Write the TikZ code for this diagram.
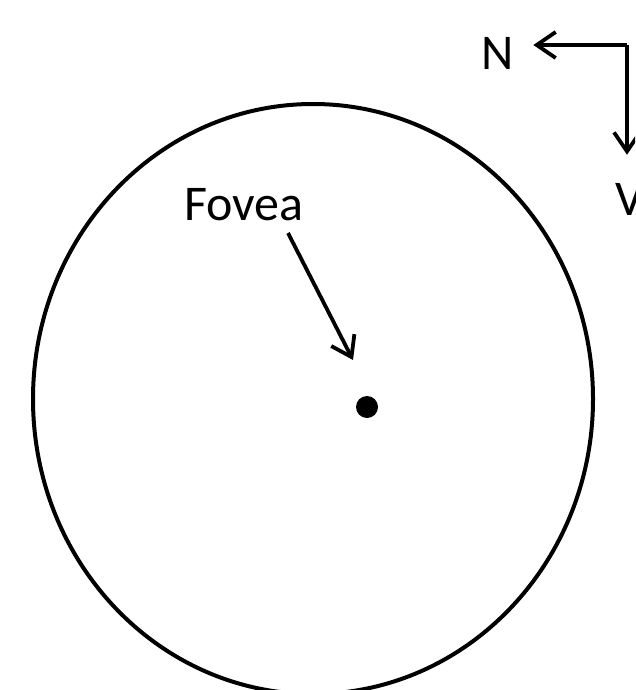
\documentclass[tikz,border=0pt]{standalone}
\usepackage{fontspec}
\setmainfont{Carlito}
\usetikzlibrary{arrows.meta}
\begin{document}
\begin{tikzpicture}[x=1pt,y=-1pt,
  lbl/.style={font=\fontsize{50}{60}\selectfont, inner sep=0pt},
  arr/.style={line width=3.8pt, -{Straight Barb[length=19pt,width=26pt,line join=miter]}}]
\useasboundingbox (0,0) rectangle (635,690);
\clip (0,0) rectangle (635,690);
\draw[line width=4pt] (313,399) ellipse [x radius=280, y radius=295];
\node[circle, fill=black, minimum size=22pt, inner sep=0pt] (dot) at (367,407) {};
\node[lbl] (fovea) at (244,205) {Fovea};
\node[lbl] (N) at (498,53) {N};
\node[lbl] (V) at (630,199) {V};
\coordinate (corner) at (627,45);
\coordinate (fstart) at (288,233);
\coordinate (ftip) at (353,360);
\draw[arr] (corner) -- (corner -| N.east) [shorten >=19pt];
\draw[arr, shorten >=28pt] (corner) -- (corner |- V.north);
\draw[arr] (fstart) -- (ftip);
\end{tikzpicture}
\end{document}
